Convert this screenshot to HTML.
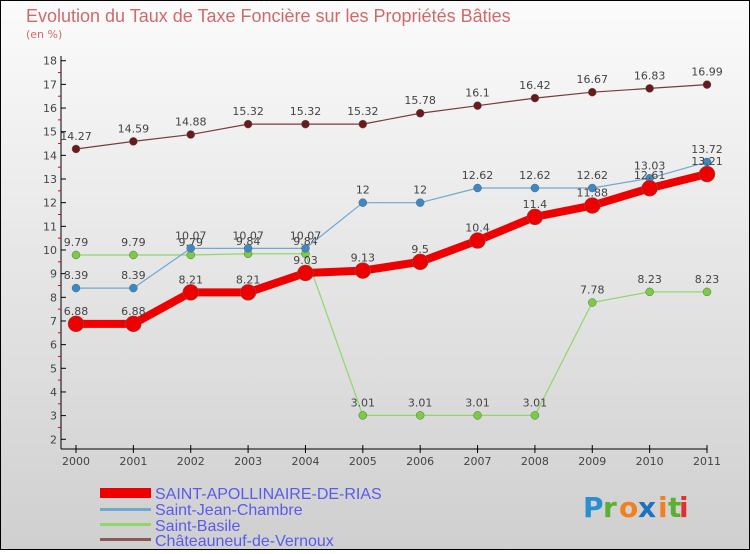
<!DOCTYPE html>
<html><head><meta charset="utf-8"><style>
body{margin:0;width:750px;height:550px;overflow:hidden;font-family:"DejaVu Sans","Liberation Sans",sans-serif}
</style></head><body>
<svg width="750" height="550" viewBox="0 0 750 550" xmlns="http://www.w3.org/2000/svg">
<defs><linearGradient id="bg" x1="0" y1="0" x2="0" y2="1"><stop offset="0" stop-color="#fbfbfb"/><stop offset="1" stop-color="#cfcfcf"/></linearGradient></defs>
<rect x="0.5" y="0.5" width="749" height="549" fill="url(#bg)" stroke="#000"/>
<text x="26" y="22" font-size="18" fill="#d06a6a" font-family="Liberation Sans, sans-serif">Evolution du Taux de Taxe Foncière sur les Propriétés Bâties</text>
<text x="26" y="38" font-size="11" fill="#d06a6a">(en %)</text>
<g id="axes"></g>
<g id="series"></g>
<g font-family="Liberation Sans, sans-serif" font-size="16" fill="#5a5aee">
<rect x="100" y="488" width="51" height="10" fill="#e00"/>
<text x="155" y="499">SAINT-APOLLINAIRE-DE-RIAS</text>
<rect x="100" y="508" width="51" height="3" fill="#6fa8d0"/>
<text x="155" y="515">Saint-Jean-Chambre</text>
<rect x="100" y="523" width="51" height="3" fill="#8ed86a"/>
<text x="155" y="531">Saint-Basile</text>
<rect x="100" y="538" width="51" height="3" fill="#8a5a5a"/>
<text x="155" y="546">Châteauneuf-de-Vernoux</text>
</g>
<g font-size="28" font-family="DejaVu Sans, sans-serif" font-weight="bold">
<text x="583" y="517" fill="#2a8fd0">P</text><text x="603" y="517" fill="#5ab030">r</text><text x="619" y="517" fill="#f08020">o</text><text x="638" y="517" fill="#2070c0">x</text><text x="658" y="517" fill="#f08020">i</text><text x="668" y="517" fill="#5ab030">t</text><text x="679" y="517" fill="#e03030">i</text>
</g>
</svg>
<script>
const years=[2000,2001,2002,2003,2004,2005,2006,2007,2008,2009,2010,2011];
const yTicks=[2,3,4,5,6,7,8,9,10,11,12,13,14,15,16,17,18];
const apollinaire=[6.88,6.88,8.21,8.21,9.03,9.13,9.5,10.4,11.4,11.88,12.61,13.21];
const saintJean=[8.39,8.39,10.07,10.07,10.07,12,12,12.62,12.62,12.62,13.03,13.72];
const saintBasile=[9.79,9.79,9.79,9.84,9.84,3.01,3.01,3.01,3.01,7.78,8.23,8.23];
const chateauneuf=[14.27,14.59,14.88,15.32,15.32,15.32,15.78,16.1,16.42,16.67,16.83,16.99];
const NS="http://www.w3.org/2000/svg";
const X=i=>76+i*(707-76)/(years.length-1);
const Y=v=>250-(v-10)*23.66;
function mk(t,a,p){const e=document.createElementNS(NS,t);for(const k in a)e.setAttribute(k,a[k]);p.appendChild(e);return e;}
const ax=document.getElementById('axes');
let l=mk('line',{x1:61,y1:56,x2:61,y2:449,stroke:'#000'},ax);


l=mk('line',{x1:61,y1:449,x2:707,y2:449,stroke:'#000'},ax);


yTicks.forEach(v=>{
 mk('line',{x1:61,y1:Y(v),x2:66,y2:Y(v),stroke:'#000'},ax);
 if(v<18)mk('line',{x1:58,y1:Y(v+0.5),x2:61,y2:Y(v+0.5),stroke:'#e00'},ax);
 const t=mk('text',{x:57,y:Y(v)+4,'text-anchor':'end','font-size':11,fill:'#444'},ax);
 t.textContent=v;
 
 
});
years.forEach((y,i)=>{
 mk('line',{x1:X(i),y1:445,x2:X(i),y2:453,stroke:'#000'},ax);
 const t=mk('text',{x:X(i),y:465,'text-anchor':'middle','font-size':11,fill:'#444'},ax);
 t.textContent=y;
 
 
});
const sg=document.getElementById('series');
function series(vals,color,dot,w,r,name){
 const g=mk('g',{},sg);
 
 
 mk('polyline',{points:vals.map((v,i)=>X(i)+','+Y(v)).join(' '),fill:'none',stroke:color,'stroke-width':w,'stroke-linejoin':'round'},g);
 vals.forEach((v,i)=>{
  const c=mk('circle',{cx:X(i),cy:Y(v),r:r,fill:dot,stroke:'#666','stroke-width':0.5},g);
  
  
  const t=mk('text',{x:X(i),y:Y(v)-9,'text-anchor':'middle','font-size':11,fill:'#444'},g);
  t.textContent=String(v);
  
  
 });
}
series(chateauneuf,'#7a3a3a','#6a1a1a',1.2,4,'chateauneuf-series');
series(saintBasile,'#8ed86a','#7acc40',1.2,4,'saint-basile-series');
series(saintJean,'#6fa8d0','#3a88c8',1.2,4,'saint-jean-series');
series(apollinaire,'#e00','#e00',8,8,'saint-apollinaire-series');
</script>
</body></html>
